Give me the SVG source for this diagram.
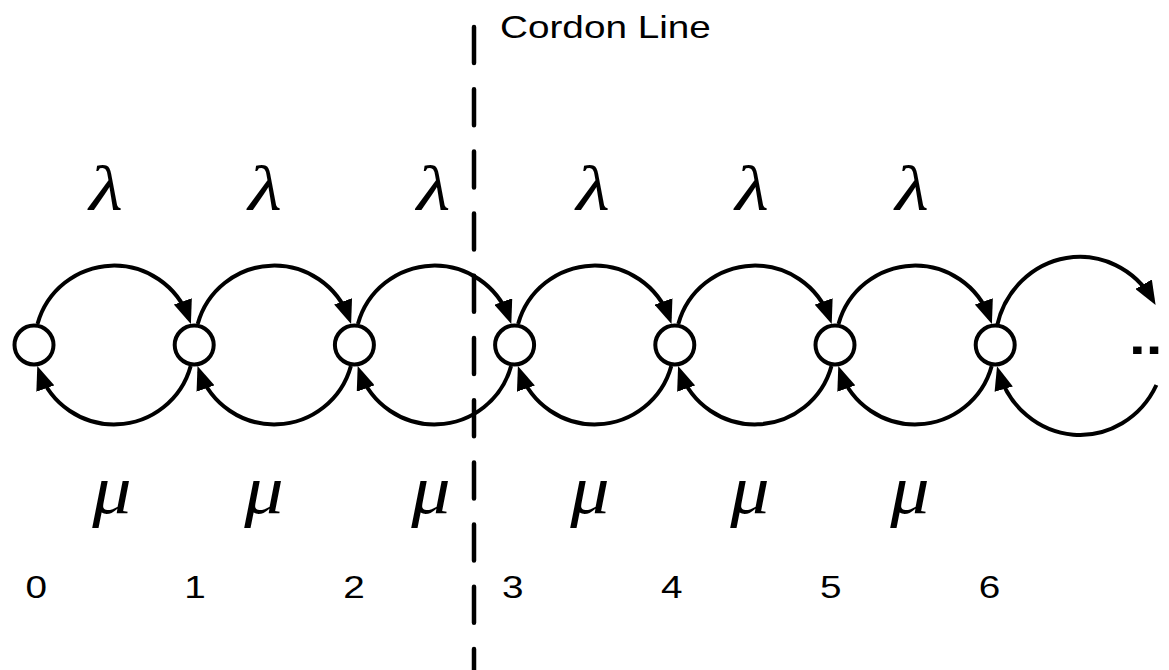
<svg xmlns="http://www.w3.org/2000/svg" width="1169" height="670" viewBox="0 0 1169 670">
<style>
.arc{fill:none;stroke:#000;stroke-width:4;marker-end:url(#ah)}
.node{fill:#fff;stroke:#000;stroke-width:4}
.lbl{font-family:"Liberation Sans",Arial,sans-serif;font-size:32px;fill:#000}
.greek{font-family:"Liberation Serif","Times New Roman",serif;font-style:italic;font-size:64px;fill:#000;text-anchor:middle}
.mu{font-size:70px}
.cordon{fill:none;stroke:#000;stroke-width:4.5;stroke-linecap:round;stroke-dasharray:36 26.2}
</style>
<defs>
<marker id="ah" markerUnits="userSpaceOnUse" markerWidth="24" markerHeight="19" viewBox="0 0 24 19" refX="18" refY="9.5" orient="auto">
<path d="M0,0 L24,9.5 L0,19 z" fill="#000"/>
</marker>
</defs>
<rect width="1169" height="670" fill="#fff"/>
<g id="connectors">
<path class="arc" d="M37.5,324 A79.4,79.4 0 0 1 188.9,318.4"/>
<path class="arc" d="M197.7,324 A79.4,79.4 0 0 1 349.1,318.4"/>
<path class="arc" d="M357.9,324 A79.4,79.4 0 0 1 509.3,318.4"/>
<path class="arc" d="M518.1,324 A79.4,79.4 0 0 1 669.5,318.4"/>
<path class="arc" d="M678.3,324 A79.4,79.4 0 0 1 829.7,318.4"/>
<path class="arc" d="M838.5,324 A79.4,79.4 0 0 1 989.9,318.4"/>
<path class="arc" d="M997,326 A85,89 0 0 1 1152.6,299.8"/>
<path class="arc" d="M190.7,366 A79.4,79.4 0 0 1 39.3,371.6"/>
<path class="arc" d="M350.9,366 A79.4,79.4 0 0 1 199.5,371.6"/>
<path class="arc" d="M511.1,366 A79.4,79.4 0 0 1 359.7,371.6"/>
<path class="arc" d="M671.3,366 A79.4,79.4 0 0 1 519.9,371.6"/>
<path class="arc" d="M831.5,366 A79.4,79.4 0 0 1 680.1,371.6"/>
<path class="arc" d="M991.7,366 A79.4,79.4 0 0 1 840.3,371.6"/>
<path class="arc" d="M1156.4,385 A85,89 0 0 1 998.7,371.9"/>
</g>
<g id="node0"><circle class="node" cx="34" cy="345" r="19.5"/><text class="lbl" transform="translate(25.4,598) scale(1.21,1)">0</text></g>
<g id="node1"><circle class="node" cx="194.2" cy="345" r="19.5"/><text class="lbl" transform="translate(184.3,598) scale(1.21,1)">1</text></g>
<g id="node2"><circle class="node" cx="354.4" cy="345" r="19.5"/><text class="lbl" transform="translate(343.2,598) scale(1.21,1)">2</text></g>
<g id="node3"><circle class="node" cx="514.6" cy="345" r="19.5"/><text class="lbl" transform="translate(502.1,598) scale(1.21,1)">3</text></g>
<g id="node4"><circle class="node" cx="674.8" cy="345" r="19.5"/><text class="lbl" transform="translate(661,598) scale(1.21,1)">4</text></g>
<g id="node5"><circle class="node" cx="835" cy="345" r="19.5"/><text class="lbl" transform="translate(819.9,598) scale(1.21,1)">5</text></g>
<g id="node6"><circle class="node" cx="995.2" cy="345" r="19.5"/><text class="lbl" transform="translate(978.8,598) scale(1.21,1)">6</text></g>
<g id="rates">
<text class="greek" transform="translate(106,210) scale(1.21,1)">λ</text>
<text class="greek" transform="translate(265,210) scale(1.21,1)">λ</text>
<text class="greek" transform="translate(433.5,210) scale(1.21,1)">λ</text>
<text class="greek" transform="translate(593,210) scale(1.21,1)">λ</text>
<text class="greek" transform="translate(752,210) scale(1.21,1)">λ</text>
<text class="greek" transform="translate(912,210) scale(1.21,1)">λ</text>
<text class="greek mu" transform="translate(112,513) scale(1.12,1)">μ</text>
<text class="greek mu" transform="translate(264,513) scale(1.12,1)">μ</text>
<text class="greek mu" transform="translate(431,513) scale(1.12,1)">μ</text>
<text class="greek mu" transform="translate(590,513) scale(1.12,1)">μ</text>
<text class="greek mu" transform="translate(750,513) scale(1.12,1)">μ</text>
<text class="greek mu" transform="translate(910,513) scale(1.12,1)">μ</text>
</g>
<g id="cordon">
<path class="cordon" d="M474,27 V672"/>
<text class="lbl" transform="translate(500,38) scale(1.21,1)">Cordon Line</text>
</g>
<g id="ellipsis">
<text transform="translate(1129.1,354) scale(1.2,1)" style="font-family:'Liberation Sans',Arial,sans-serif;font-weight:bold;font-size:50px">..</text>
</g>
</svg>
